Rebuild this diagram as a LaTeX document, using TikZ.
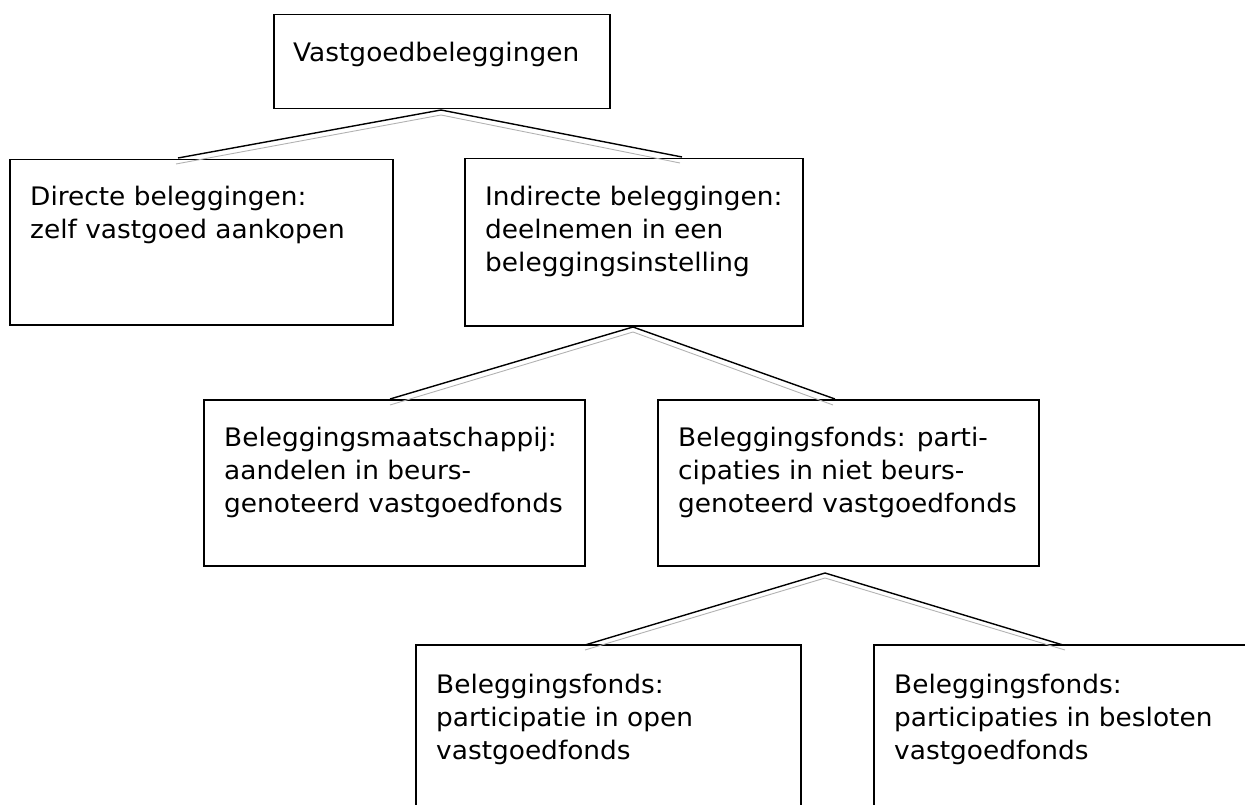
\documentclass[tikz,border=0pt]{standalone}
\usepackage{fontspec}
\setmainfont{DejaVu Sans}[FakeStretch=1.035]
\begin{document}
\begin{tikzpicture}[x=1pt,y=-1pt,
  box/.style={draw=black, line width=1.5pt, inner sep=0pt, anchor=north west},
  txt/.style={inner sep=0pt, anchor=base west, align=left,
    font=\fontsize{25.5}{33}\selectfont},
  hat/.style={draw=black, line width=1.4pt},
  hatshade/.style={draw=black!30, line width=0.9pt}]
\useasboundingbox (0,0) rectangle (1245,805);

% boxes
\node[box, minimum width=336pt, minimum height=94pt] (root) at (273,14) {};
\node[box, minimum width=383pt, minimum height=165pt] (direct) at (9,159) {};
\node[box, minimum width=338pt, minimum height=167pt] (indirect) at (464,158) {};
\node[box, minimum width=381pt, minimum height=166pt] (company) at (203,399) {};
\node[box, minimum width=381pt, minimum height=166pt] (fund) at (657,399) {};
\node[box, minimum width=385pt, minimum height=200pt] (open) at (415,644) {};
\node[box, minimum width=400pt, minimum height=200pt] (closed) at (873,644) {};

% texts
\node[txt] (rootT) at (293,62) {Vastgoedbeleggingen};
\node[txt] (directT) at (30,206) {Directe beleggingen:};
\node[txt] (directT2) at (30,239) {zelf vastgoed aankopen};
\node[txt] (indirectT) at (485,206) {Indirecte beleggingen:};
\node[txt] (indirectT2) at (485,239) {deelnemen in een};
\node[txt] (indirectT3) at (485,272) {beleggingsinstelling};
\node[txt] (companyT) at (224,446) {Beleggingsmaatschappij:};
\node[txt] (companyT2) at (224,479) {aandelen in beurs-};
\node[txt] (companyT3) at (224,512) {genoteerd vastgoedfonds};
\node[txt] (fundT) at (678,446) {Beleggingsfonds: parti-};
\node[txt] (fundT2) at (678,479) {cipaties in niet beurs-};
\node[txt] (fundT3) at (678,512) {genoteerd vastgoedfonds};
\node[txt] (openT) at (436,693) {Beleggingsfonds:};
\node[txt] (openT2) at (436,726) {participatie in open};
\node[txt] (openT3) at (436,759) {vastgoedfonds};
\node[txt] (closedT) at (894,693) {Beleggingsfonds:};
\node[txt] (closedT2) at (894,726) {participaties in besloten};
\node[txt] (closedT3) at (894,759) {vastgoedfonds};

% connector apexes and feet
\coordinate (a1) at (441,110);  \coordinate (a1s) at (441,115);
\coordinate (l1) at (178,158);  \coordinate (l1s) at (176,164);
\coordinate (r1) at (682,157);  \coordinate (r1s) at (680,163);
\coordinate (a2) at (633,327);  \coordinate (a2s) at (633,332);
\coordinate (l2) at (390,399);  \coordinate (l2s) at (390,405);
\coordinate (r2) at (835,399);  \coordinate (r2s) at (833,405);
\coordinate (a3) at (825,573);  \coordinate (a3s) at (825,578);
\coordinate (l3) at (585,645);  \coordinate (l3s) at (585,650);
\coordinate (r3) at (1063,645); \coordinate (r3s) at (1065,650);

% shaded underline of each connector
\draw[hatshade] (l1s) -- (a1s) -- (r1s);
\draw[hatshade] (l2s) -- (a2s) -- (r2s);
\draw[hatshade] (l3s) -- (a3s) -- (r3s);
% connectors
\draw[hat] (l1) -- (a1) -- (r1);
\draw[hat] (l2) -- (a2) -- (r2);
\draw[hat] (l3) -- (a3) -- (r3);
\end{tikzpicture}
\end{document}
